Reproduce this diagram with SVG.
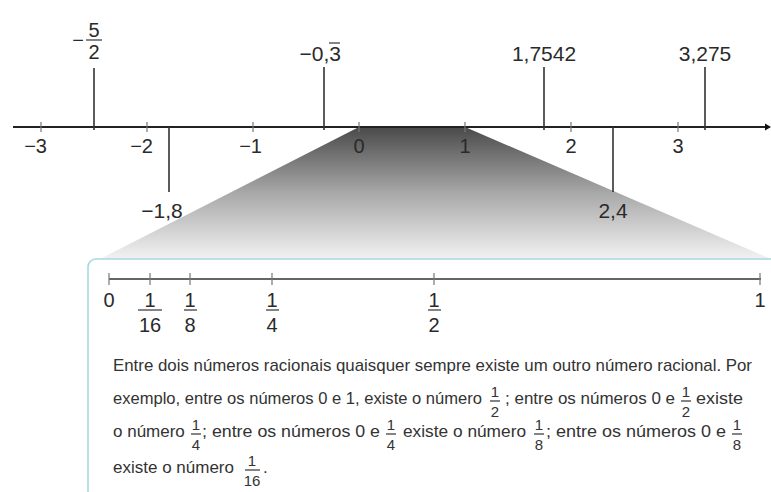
<svg xmlns="http://www.w3.org/2000/svg" width="771" height="492" viewBox="0 0 771 492">
<style>
text{font-family:"Liberation Sans","DejaVu Sans",sans-serif;fill:#2a2a2a}
.lb{font-size:20px}
.mv{font-size:21px}
.md{text-anchor:middle}
.en{text-anchor:end}
.tick{stroke:#777;stroke-width:1.2}
.mk{stroke:#333;stroke-width:1.6}
.bar{stroke:#333;stroke-width:1.2}
.p{font-size:17px;fill:#333}
.pf{font-size:15px;fill:#333;text-anchor:middle}
</style>
<defs>
<linearGradient id="g" x1="0" y1="0" x2="0" y2="1">
<stop offset="0" stop-color="#4a4a4a"/>
<stop offset="0.5" stop-color="#a8a8a8"/>
<stop offset="1" stop-color="#f2f2f2"/>
</linearGradient>
</defs>
<rect width="771" height="492" fill="#fff"/>
<polygon id="zoom" points="359,127 465,127 771,259 100,259" fill="url(#g)"/>

<g id="connectors">
<line x1="13" y1="127" x2="766" y2="127" stroke="#222" stroke-width="1.8"/>
<polygon points="765,123.5 771,127 765,130.5" fill="#111"/>
<g class="tick">
<line x1="41" y1="122" x2="41" y2="132"/>
<line x1="147" y1="122" x2="147" y2="132"/>
<line x1="253" y1="122" x2="253" y2="132"/>
<line x1="359" y1="122" x2="359" y2="132"/>
<line x1="465" y1="122" x2="465" y2="132"/>
<line x1="571" y1="122" x2="571" y2="132"/>
<line x1="678" y1="122" x2="678" y2="132"/>
</g>
<g class="mk">
<line x1="94" y1="68" x2="94" y2="130"/>
<line x1="324" y1="67" x2="324" y2="130"/>
<line x1="544" y1="67" x2="544" y2="130"/>
<line x1="705" y1="67" x2="705" y2="130"/>
<line x1="169" y1="127" x2="169" y2="192"/>
<line x1="613" y1="127" x2="613" y2="192"/>
</g>
</g>

<g id="axis-labels" class="lb">
<text x="47" y="153" class="en">−3</text>
<text x="153" y="153" class="en">−2</text>
<text x="262" y="153" class="en">−1</text>
<text x="359" y="153" class="md">0</text>
<text x="465" y="153" class="md">1</text>
<text x="571" y="153" class="md">2</text>
<text x="678" y="153" class="md">3</text>
</g>

<g id="n-5-2" class="lb">
<text x="78" y="47" class="md">−</text>
<text x="94" y="37" class="md">5</text>
<line x1="86" y1="40" x2="102" y2="40" class="bar" stroke-width="1.4"/>
<text x="94" y="59" class="md">2</text>
</g>
<g id="n-0-3" class="mv">
<text x="341" y="61" class="en">−0,3</text>
<line x1="329" y1="43" x2="340" y2="43" class="bar"/>
</g>
<g id="n-1-7542" class="mv"><text x="544" y="61" class="md">1,7542</text></g>
<g id="n-3-275" class="mv"><text x="705" y="61" class="md">3,275</text></g>
<g id="n-1-8" class="mv"><text x="162" y="218" class="md">−1,8</text></g>
<g id="n-2-4" class="mv"><text x="613" y="218" class="md">2,4</text></g>

<g id="box">
<rect x="88" y="259" width="720" height="260" rx="8" fill="#fff" stroke="#a8d8e2" stroke-width="1.6"/>
</g>

<g id="inner-line">
<line x1="109" y1="279" x2="761" y2="279" stroke="#333" stroke-width="1.6"/>
<g class="tick">
<line x1="109" y1="273" x2="109" y2="285"/>
<line x1="150" y1="273" x2="150" y2="285"/>
<line x1="190" y1="273" x2="190" y2="285"/>
<line x1="272" y1="273" x2="272" y2="285"/>
<line x1="434" y1="273" x2="434" y2="285"/>
<line x1="760" y1="273" x2="760" y2="285"/>
</g>
<g class="lb">
<text x="109" y="307" class="md">0</text>
<text x="760" y="307" class="md">1</text>
<text x="150" y="307" class="md">1</text>
<line x1="138" y1="310" x2="162" y2="310" class="bar"/>
<text x="150" y="332" class="md">16</text>
<text x="190" y="307" class="md">1</text>
<line x1="184" y1="310" x2="197" y2="310" class="bar"/>
<text x="190" y="332" class="md">8</text>
<text x="272" y="307" class="md">1</text>
<line x1="266" y1="310" x2="279" y2="310" class="bar"/>
<text x="272" y="332" class="md">4</text>
<text x="434" y="307" class="md">1</text>
<line x1="428" y1="310" x2="441" y2="310" class="bar"/>
<text x="434" y="332" class="md">2</text>
</g>
</g>

<g id="paragraph">
<text class="p" x="113" y="371" textLength="639" lengthAdjust="spacingAndGlyphs">Entre dois números racionais quaisquer sempre existe um outro número racional. Por</text>

<text class="p" x="113" y="404" textLength="369" lengthAdjust="spacingAndGlyphs">exemplo, entre os números 0 e 1, existe o número</text>
<text class="pf" x="495" y="397">1</text><line x1="490" y1="401" x2="500" y2="401" class="bar"/><text class="pf" x="495" y="417">2</text>
<text class="p" x="505" y="404" textLength="170" lengthAdjust="spacingAndGlyphs">; entre os números 0 e</text>
<text class="pf" x="686" y="397">1</text><line x1="681" y1="401" x2="691" y2="401" class="bar"/><text class="pf" x="686" y="417">2</text>
<text class="p" x="696" y="404" textLength="47" lengthAdjust="spacingAndGlyphs">existe</text>

<text class="p" x="113" y="437">o número</text>
<text class="pf" x="196" y="430">1</text><line x1="191" y1="434" x2="201" y2="434" class="bar"/><text class="pf" x="196" y="450">4</text>
<text class="p" x="202" y="437" textLength="178" lengthAdjust="spacingAndGlyphs">; entre os números 0 e</text>
<text class="pf" x="391" y="430">1</text><line x1="386" y1="434" x2="396" y2="434" class="bar"/><text class="pf" x="391" y="450">4</text>
<text class="p" x="403" y="437" textLength="123" lengthAdjust="spacingAndGlyphs">existe o número</text>
<text class="pf" x="539" y="430">1</text><line x1="534" y1="434" x2="544" y2="434" class="bar"/><text class="pf" x="539" y="450">8</text>
<text class="p" x="546" y="437" textLength="180" lengthAdjust="spacingAndGlyphs">; entre os números 0 e</text>
<text class="pf" x="737" y="430">1</text><line x1="732" y1="434" x2="742" y2="434" class="bar"/><text class="pf" x="737" y="450">8</text>

<text class="p" x="113" y="473">existe o número</text>
<text class="pf" x="252" y="466">1</text><line x1="245" y1="470" x2="260" y2="470" class="bar"/><text class="pf" x="252" y="486">16</text>
<text class="p" x="263" y="473">.</text>
</g>
</svg>
